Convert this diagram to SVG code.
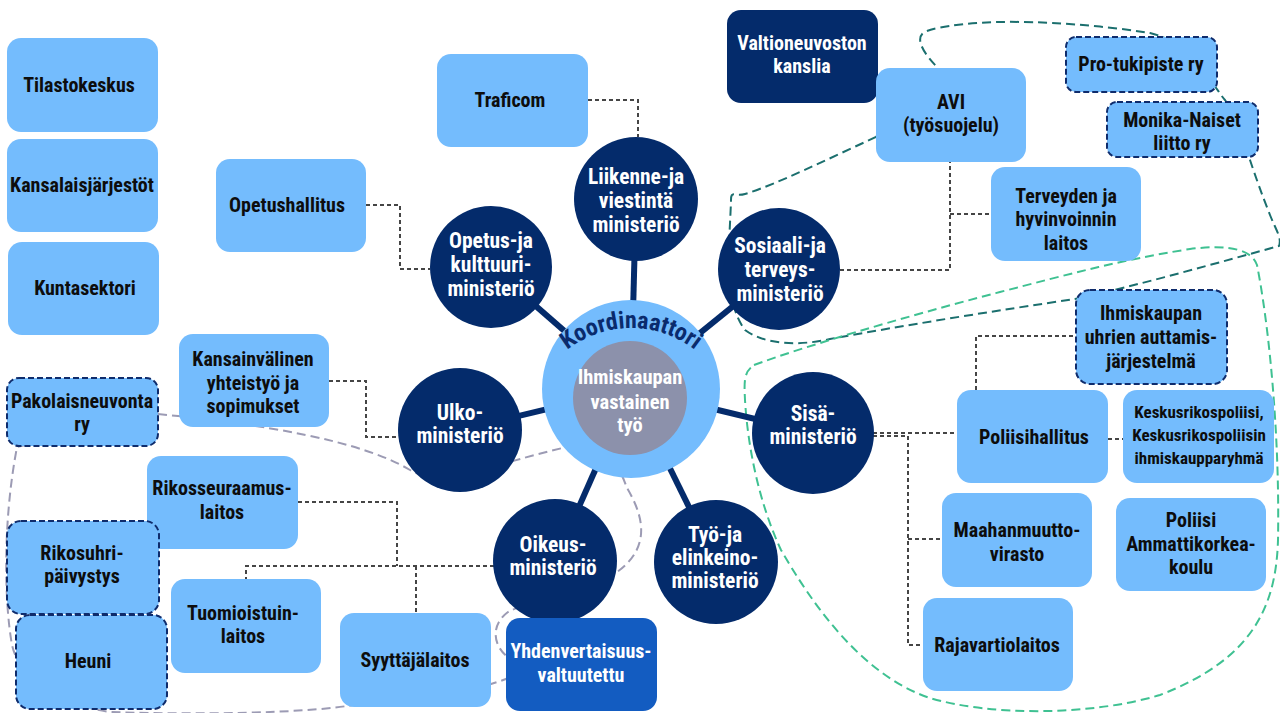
<svg xmlns="http://www.w3.org/2000/svg" width="1280" height="713" viewBox="0 0 1280 713">
  <defs>
    <style>
      .box{fill:#74bcfd}
      .navy{fill:#042b6b}
      .mid{fill:#135cc1}
      .dsh{stroke:#0f2c6c;stroke-width:2;stroke-dasharray:6 3}
      .t{font-family:"Liberation Sans Narrow","Roboto Condensed","DejaVu Sans Condensed",sans-serif;font-weight:700;font-stretch:condensed;font-size:20px;text-anchor:middle;fill:#0d0d0d}
      .w{fill:#ffffff}
      .c{font-size:21.5px}
      .k{font-size:17px}
      .link{fill:none;stroke:#454545;stroke-width:2;stroke-dasharray:4 3}
      .spoke{stroke:#042b6b;stroke-width:6}
      .grp{fill:none;stroke-width:2;stroke-dasharray:9 5}
    </style>
    <path id="arc" d="M527,432 A104,104 0 0 1 735,432"/>
  </defs>
  <rect width="1280" height="713" fill="#ffffff"/>

  <!-- group outlines -->
  <g id="outlines">
    <path class="grp" stroke="#9c9bb4" d="M158,414 C260,424 360,440 410,470 C440,488 500,462 567,447 C610,438 620,470 627,488 C640,510 655,545 617,572 C580,595 530,600 508,612 C490,625 492,648 512,660 C530,672 510,678 491,684 L347,706 C300,713 200,715 110,712 C60,705 20,680 12,645 C4,600 3,520 17,447 Z"/>
    <path class="grp" stroke="#1b6f6e" d="M876,137 C830,158 775,185 745,194 C735,197 731,190 731,200 C730,240 722,300 745,330 C765,345 800,346 830,339 C900,326 1000,310 1075,299 C1140,285 1220,262 1279,246 C1282,238 1276,230 1270,215 C1262,195 1255,175 1250,160 C1240,130 1232,110 1225,100 C1218,92 1216,85 1200,70 C1180,45 1170,38 1150,33 C1100,25 1040,21 1000,22 C960,23 930,28 923,33 C915,40 925,55 938,68 Z"/>
    <path class="grp" stroke="#3fc192" d="M754,365 C800,348 900,318 1000,292 C1070,274 1120,260 1190,249 C1230,244 1252,250 1257,265 C1268,320 1280,430 1278,540 C1276,610 1250,660 1160,695 C1090,716 990,716 930,698 C860,675 810,600 781,550 C760,505 748,450 745,400 C744,380 744,372 754,365 Z"/>
  </g>

  <!-- connectors -->
  <g id="connectors">
    <path class="link" d="M588,100 H638 V137"/>
    <path class="link" d="M366,205 H400 V269 H430"/>
    <path class="link" d="M840,270 H950 V162 M950,214 H991"/>
    <path class="link" d="M329,381 H366 V437 H400"/>
    <path class="link" d="M873,433 H957 M873,436 H908 V645 H923 M908,539 H942"/>
    <path class="link" d="M976,390 V336 H1076"/>
    <path class="link" d="M1108,439 H1123"/>
    <path class="link" d="M494,566 H246 V579 M298,502 H397 V566 M416,566 V613"/>
    <line class="spoke" x1="631" y1="389" x2="636" y2="199"/>
    <line class="spoke" x1="631" y1="389" x2="491" y2="267"/>
    <line class="spoke" x1="631" y1="389" x2="779" y2="269"/>
    <line class="spoke" x1="631" y1="389" x2="460" y2="430"/>
    <line class="spoke" x1="631" y1="389" x2="813" y2="433"/>
    <line class="spoke" x1="631" y1="389" x2="555" y2="561"/>
    <line class="spoke" x1="631" y1="389" x2="716" y2="562"/>
  </g>

  <!-- centre -->
  <g id="koordinaattori">
    <circle cx="631" cy="389" r="89" fill="#74bcfd"/>
    <circle cx="630" cy="398" r="57" fill="#8c91ab"/>
    <text class="t" style="font-size:24px;fill:#0a2b6d"><textPath href="#arc" startOffset="50%">Koordinaattori</textPath></text>
    <text class="t w" style="font-size:20.5px" x="630" y="384">Ihmiskaupan</text>
    <text class="t w" style="font-size:20.5px" x="630" y="409">vastainen</text>
    <text class="t w" style="font-size:20.5px" x="630" y="432">työ</text>
  </g>

  <!-- ministries -->
  <g id="lvm">
    <circle class="navy" cx="636" cy="199" r="62"/>
    <text class="t w c" x="636" y="184">Liikenne-ja</text>
    <text class="t w c" x="636" y="208">viestintä</text>
    <text class="t w c" x="636" y="232">ministeriö</text>
  </g>
  <g id="okm">
    <circle class="navy" cx="491" cy="267" r="61"/>
    <text class="t w c" x="491" y="248">Opetus-ja</text>
    <text class="t w c" x="491" y="272">kulttuuri-</text>
    <text class="t w c" x="491" y="296">ministeriö</text>
  </g>
  <g id="stm">
    <circle class="navy" cx="779" cy="269" r="61"/>
    <text class="t w c" x="780" y="253">Sosiaali-ja</text>
    <text class="t w c" x="780" y="277">terveys-</text>
    <text class="t w c" x="780" y="301">ministeriö</text>
  </g>
  <g id="um">
    <circle class="navy" cx="460" cy="430" r="62"/>
    <text class="t w c" x="460" y="420">Ulko-</text>
    <text class="t w c" x="460" y="443">ministeriö</text>
  </g>
  <g id="sm">
    <circle class="navy" cx="813" cy="433" r="61"/>
    <text class="t w c" x="813" y="421">Sisä-</text>
    <text class="t w c" x="813" y="444">ministeriö</text>
  </g>
  <g id="om">
    <circle class="navy" cx="555" cy="561" r="62"/>
    <text class="t w c" x="553" y="552">Oikeus-</text>
    <text class="t w c" x="553" y="575">ministeriö</text>
  </g>
  <g id="tem">
    <circle class="navy" cx="716" cy="562" r="62"/>
    <text class="t w c" x="715" y="542">Työ-ja</text>
    <text class="t w c" x="715" y="565">elinkeino-</text>
    <text class="t w c" x="715" y="588">ministeriö</text>
  </g>

  <!-- left column -->
  <g id="tilastokeskus">
    <rect class="box" x="7" y="38" width="151" height="94" rx="14"/>
    <text class="t" x="79" y="92">Tilastokeskus</text>
  </g>
  <g id="kansalaisjarjestot">
    <rect class="box" x="7" y="139" width="151" height="93" rx="14"/>
    <text class="t" x="82" y="192">Kansalaisjärjestöt</text>
  </g>
  <g id="kuntasektori">
    <rect class="box" x="8" y="242" width="151" height="93" rx="14"/>
    <text class="t" x="85" y="295">Kuntasektori</text>
  </g>
  <g id="opetushallitus">
    <rect class="box" x="216" y="159" width="150" height="93" rx="14"/>
    <text class="t" x="287" y="212">Opetushallitus</text>
  </g>
  <g id="traficom">
    <rect class="box" x="437" y="54" width="151" height="93" rx="14"/>
    <text class="t" x="510" y="107">Traficom</text>
  </g>
  <g id="kansainvalinen">
    <rect class="box" x="179" y="334" width="150" height="93" rx="14"/>
    <text class="t" x="253" y="366">Kansainvälinen</text>
    <text class="t" x="253" y="390">yhteistyö ja</text>
    <text class="t" x="253" y="413">sopimukset</text>
  </g>
  <g id="pakolaisneuvonta">
    <rect class="box dsh" x="7" y="378" width="151" height="68" rx="12"/>
    <text class="t" x="82" y="408">Pakolaisneuvonta</text>
    <text class="t" x="82" y="431">ry</text>
  </g>
  <g id="rikosseuraamus">
    <rect class="box" x="147" y="456" width="151" height="93" rx="14"/>
    <text class="t" x="222" y="495">Rikosseuraamus-</text>
    <text class="t" x="222" y="519">laitos</text>
  </g>
  <g id="rikosuhri">
    <rect class="box dsh" x="7" y="521" width="152" height="93" rx="14"/>
    <text class="t" x="82" y="560">Rikosuhri-</text>
    <text class="t" x="82" y="583">päivystys</text>
  </g>
  <g id="heuni">
    <rect class="box dsh" x="16" y="615" width="151" height="94" rx="14"/>
    <text class="t" x="88" y="668">Heuni</text>
  </g>
  <g id="tuomioistuin">
    <rect class="box" x="171" y="579" width="150" height="94" rx="14"/>
    <text class="t" x="243" y="620">Tuomioistuin-</text>
    <text class="t" x="243" y="643">laitos</text>
  </g>
  <g id="syyttaja">
    <rect class="box" x="340" y="613" width="151" height="94" rx="14"/>
    <text class="t" x="415" y="667">Syyttäjälaitos</text>
  </g>
  <g id="yhdenvertaisuus">
    <rect class="mid" x="506" y="618" width="151" height="93" rx="14"/>
    <text class="t w" x="581" y="658">Yhdenvertaisuus-</text>
    <text class="t w" x="581" y="682">valtuutettu</text>
  </g>

  <!-- upper right -->
  <g id="valtioneuvosto">
    <rect class="navy" x="727" y="10" width="151" height="93" rx="14"/>
    <text class="t w" x="802" y="50">Valtioneuvoston</text>
    <text class="t w" x="802" y="73">kanslia</text>
  </g>
  <g id="avi">
    <rect class="box" x="876" y="68" width="150" height="94" rx="14"/>
    <text class="t" x="951" y="109">AVI</text>
    <text class="t" x="951" y="132">(työsuojelu)</text>
  </g>
  <g id="protukipiste">
    <rect class="box dsh" x="1066" y="37" width="151" height="55" rx="10"/>
    <text class="t" x="1141" y="71">Pro-tukipiste ry</text>
  </g>
  <g id="monika">
    <rect class="box dsh" x="1107" y="102" width="151" height="55" rx="10"/>
    <text class="t" x="1182" y="127">Monika-Naiset</text>
    <text class="t" x="1182" y="150">liitto ry</text>
  </g>
  <g id="thl">
    <rect class="box" x="991" y="167" width="150" height="94" rx="14"/>
    <text class="t" x="1066" y="203">Terveyden ja</text>
    <text class="t" x="1066" y="226">hyvinvoinnin</text>
    <text class="t" x="1066" y="250">laitos</text>
  </g>

  <!-- lower right -->
  <g id="auttamisjarjestelma">
    <rect class="box dsh" x="1076" y="290" width="151" height="94" rx="14"/>
    <text class="t" x="1151" y="320">Ihmiskaupan</text>
    <text class="t" x="1151" y="344">uhrien auttamis-</text>
    <text class="t" x="1151" y="368">järjestelmä</text>
  </g>
  <g id="poliisihallitus">
    <rect class="box" x="957" y="390" width="151" height="93" rx="14"/>
    <text class="t" x="1034" y="444">Poliisihallitus</text>
  </g>
  <g id="krp">
    <rect class="box" x="1123" y="390" width="151" height="93" rx="14"/>
    <text class="t k" x="1199" y="418">Keskusrikospoliisi,</text>
    <text class="t k" x="1199" y="441">Keskusrikospoliisin</text>
    <text class="t k" x="1199" y="464">ihmiskaupparyhmä</text>
  </g>
  <g id="migri">
    <rect class="box" x="942" y="493" width="150" height="94" rx="14"/>
    <text class="t" x="1017" y="537">Maahanmuutto-</text>
    <text class="t" x="1017" y="561">virasto</text>
  </g>
  <g id="polamk">
    <rect class="box" x="1116" y="498" width="150" height="93" rx="14"/>
    <text class="t" x="1191" y="527">Poliisi</text>
    <text class="t" x="1191" y="551">Ammattikorkea-</text>
    <text class="t" x="1191" y="574">koulu</text>
  </g>
  <g id="rajavartiolaitos">
    <rect class="box" x="923" y="598" width="150" height="93" rx="14"/>
    <text class="t" x="997" y="652">Rajavartiolaitos</text>
  </g>
</svg>
